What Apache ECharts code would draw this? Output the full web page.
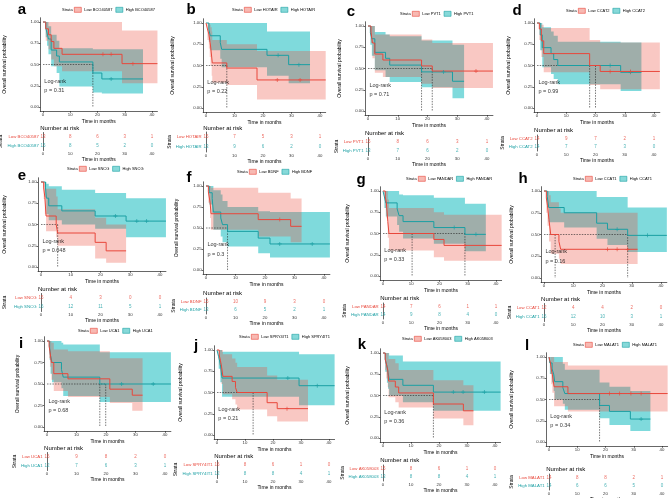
<!DOCTYPE html>
<html>
<head>
<meta charset="utf-8">
<script src="https://cdn.jsdelivr.net/npm/echarts@6/dist/echarts.min.js"></script>
<style>
  html, body { margin: 0; background: #fff; }
  #chart { width: 669px; height: 498px; }
</style>
</head>
<body>
<div id="chart"></div>
<script>
// ---- data ----
const genes = ['BCO40587', 'HOTAIR', 'PVT1', 'CCAT2', 'SNCG', 'BDNF', 'PANDAR', 'CCAT1', 'UCA1', 'SPRY4IT1', 'AK058003', 'MALAT1']
const letters = ['a', 'b', 'c', 'd', 'e', 'f', 'g', 'h', 'i', 'j', 'k', 'l']
const pvals = ['0.31', '0.22', '0.71', '0.99', '0.048', '0.3', '0.33', '0.16', '0.68', '0.21', '0.36', '0.34']
const riskTimes = [0, 10, 20, 30, 40]
const riskLow = [[13,8,6,3,1],[15,7,5,3,1],[15,8,6,3,1],[14,9,7,2,1],[15,4,3,0,0],[15,10,9,3,0],
                 [14,7,6,1,1],[12,4,4,2,0],[16,9,8,2,0],[16,8,6,1,0],[15,8,6,1,0],[14,8,8,2,1]]
const riskHigh = [[15,8,5,2,0],[13,9,6,2,0],[13,7,6,2,0],[14,7,7,3,0],[16,12,11,5,1],[13,6,5,2,1],
                  [14,9,8,4,0],[16,12,10,3,1],[12,7,6,3,1],[12,8,8,4,1],[13,8,8,4,1],[14,6,6,5,0]]

// low group: step times, survival, upper / lower band, last follow-up, censor times
const lowT = [[0,1,2,3,4,7,29],[0,.5,1,1.3,1.6,2,2.2,7.3,17.9],[0,1,1.5,2.3,5,18,21.6],[0,.8,1.5,2.3,18,21.6],
  [0,.9,1.3,1.7,5.1,5.6,18.2,21.9],[0,.8,1.4,1.7,17.7,28.7],[0,.8,1.2,1.7,2.1,18,21.6],[0,.8,1.2,1.7,2.3,5.1,5.7],
  [0,.7,1,1.5,2.3,7.1,21.3,28.9],[0,.8,1.2,1.6,2.1,5.4,6.6,7.2,17.9,21.5],[0,.8,1.2,1.7,2,4.4,5.6,18,28.7],[0,.5,.8,1.2,1.8,6.7]]
const lowS = [[1,.92,.85,.77,.69,.62,.51],[1,.93,.87,.8,.73,.6,.53,.47,.33],[1,.93,.8,.67,.6,.53,.47],[1,.93,.79,.64,.5,.43],
  [1,.93,.82,.6,.5,.4,.29,.19],[1,.93,.8,.67,.6,.52],[1,.93,.86,.64,.5,.43,.36],[1,.92,.83,.67,.5,.42,.33],
  [1,.94,.88,.75,.62,.56,.44,.37],[1,.94,.88,.81,.69,.63,.56,.5,.38,.31],[1,.93,.87,.8,.67,.6,.53,.4,.32],[1,.93,.86,.79,.65,.57]]
const lowU = [[1,1,1,1,1,1,.9],[1,1,1,.98,.95,.9,.8,.75,.67],[1,1,1,.9,.9,.84,.8],[1,1,.98,.94,.8,.77],
  [1,1,1,.92,.83,.68,.58,.5],[1,1,1,.98,.92,.85],[1,1,1,.9,.8,.75,.72],[1,1,1,.95,.87,.8,.75],
  [1,1,1,.98,.9,.88,.8,.8],[1,1,1,1,.95,.9,.85,.8,.7,.65],[1,1,1,1,.93,.88,.8,.68,.62],[1,1,1,1,.94,.9]]
const lowL = [[1,.78,.68,.56,.48,.42,.28],[1,.8,.7,.6,.5,.38,.3,.27,.1],[1,.8,.62,.45,.4,.32,.27],[1,.8,.6,.42,.27,.22],
  [1,.8,.62,.42,.35,.25,.1,.05],[1,.8,.62,.48,.4,.33],[1,.8,.68,.45,.3,.22,.18],[1,.75,.6,.42,.28,.22,.16],
  [1,.8,.7,.55,.42,.35,.28,.19],[1,.82,.7,.6,.48,.42,.36,.3,.22,.16],[1,.8,.7,.6,.48,.42,.36,.23,.15],[1,.8,.68,.58,.42,.36]]
const lowEnd = [42, 42, 42, 42, 28.6, 32.4, 42, 32, 32.4, 32.5, 32.3, 42]
const lowCens = [[22,25,33],[25,33],[36.3],[25,32],[],[25],[29],[21.7,25,28.6],[],[25],[],[21.4,25,29,32.6]]

// high group
const highT = [[0,1,1.5,2,3,5,6,18.3,21.6],[0,1,1.5,5,5.5,21.4,29],[0,.8,1.3,2.3,5.9,7.3,18,28.4],[0,1.1,1.8,4.8,5.7,7.1,28.6],
  [0,1.5,1.8,2.6,7,18.2,28.6],[0,1.1,2.1,2.5,5,5.6,7.3,17.7,21.7],[0,.5,1,5,5.7,7.1,18,29],[0,1.1,1.6,6.9,18,21.7,28.6],
  [0,.9,1.2,1.7,4.9,5.5,17.9],[0,.6,1.2,1.8,29.3],[0,.8,1.4,1.8,2.2,7.1,18],[0,.3,1.1,1.7,2,4.9,5.6,17.9,21.4,28.8]]
const highS = [[1,.93,.87,.8,.67,.6,.53,.4,.33],[1,.92,.85,.77,.69,.62,.51],[1,.92,.85,.69,.62,.54,.46,.35],[1,.86,.71,.64,.57,.5,.42],
  [1,.94,.81,.72,.66,.6,.54],[1,.92,.85,.69,.62,.54,.46,.38,.31],[1,.93,.86,.79,.71,.64,.57,.49],[1,.94,.81,.75,.63,.56,.49],
  [1,.92,.83,.75,.67,.58,.5],[1,.92,.83,.67,.58],[1,.92,.85,.77,.69,.62,.54],[1,.93,.86,.79,.71,.64,.57,.43,.36,.27]]
const highU = [[1,1,1,.95,.85,.78,.69,.68,.68],[1,1,1,1,1,.9,.9],[1,1,1,.93,.9,.88,.83,.78],[1,1,.95,.9,.85,.78,.77],
  [1,1,.98,.95,.91,.87,.81],[1,1,1,.95,.9,.82,.75,.7,.69],[1,1,1,1,.96,.95,.92,.85],[1,1,1,1,.93,.93,.81],
  [1,1,1,1,.98,.96,.87],[1,1,1,.98,.95],[1,1,1,1,.97,.9,.9],[1,1,1,1,1,.92,.85,.7,.65,.6]]
const highL = [[1,.82,.72,.62,.48,.4,.24,.17,.16],[1,.78,.68,.58,.48,.38,.29],[1,.78,.65,.48,.4,.34,.28,.15],[1,.68,.48,.4,.34,.28,.2],
  [1,.82,.62,.55,.5,.45,.35],[1,.78,.68,.48,.4,.33,.28,.2,.15],[1,.8,.7,.6,.52,.44,.38,.29],[1,.82,.64,.58,.45,.38,.3],
  [1,.78,.62,.52,.45,.36,.29],[1,.78,.62,.45,.35],[1,.78,.65,.58,.5,.42,.32],[1,.8,.7,.6,.5,.45,.38,.28,.2,.13]]
const highEnd = [36.7, 36.5, 32.3, 35.7, 42, 42, 36.4, 42, 42, 42, 42, 35.9]
const highCens = [[25],[25.3,32.6],[25.4],[25,32],[25,32.2,35.5],[25,36],[25.2,32.9],[25,35.4],[25.3,36],[25.3,35.8],[25.1,28.6,36.2],[32.6]]

// median survival times (dashed guides)
const medians = [[18.3],[7.3],[18,21.6],[18,20],[5.6],[7.3],[10.3,29],[3.8,28.6],[17.9,19.9],[12.9],[18],[17.9]]

// ---- layout (pixels): x of t=0, x of t=40, y of S=1, y of S=0, risk rows, title x, legend, letter ----
const layout = [
  [43,152,22,107,137,146,4,62,10,22,10],
  [206,320,23,108,137,147,172,232,10,191,10],
  [368,487,26,111,142,151,339,400,14,351,12],
  [537,654,23,108,139,147,508,566,11,517,11],
  [41,160,182,267,298,307,4,67,169,22,176],
  [206,324,186,270,302,310,176,237,172,189,178],
  [383,496,191,276,307,315,347,406,179,361,180],
  [544,661,191,278,308,317,511,573,179,523,179],
  [47,165,341,427,457,466,17,78,331,21,344],
  [217,329,350,435,465,474,180,239,337,196,346],
  [383,495,353,438,469,477,347,402,339,362,345],
  [549,662,357,442,478,486,511,573,345,527,346]
]

const RED = '#E8473B'
const TEAL = '#1A9FA3'
const RED_BAND = 'rgba(236,72,56,0.3)'
const TEAL_BAND = 'rgba(0,182,186,0.5)'
const FONT = 'Liberation Sans'

function valueAt(T, S, t) {
  let v = S[0]
  for (let k = 0; k < T.length; k++) if (T[k] <= t) v = S[k]
  return v
}

function bandSeries(ai, T, U, Lo, end, color) {
  return {
    type: 'custom', xAxisIndex: ai, yAxisIndex: ai, silent: true, z: 1, clip: true,
    data: [[0, 0]],
    renderItem(params, api) {
      const pts = []
      for (let k = 0; k < T.length; k++) {
        const t1 = k + 1 < T.length ? T[k + 1] : end
        pts.push(api.coord([T[k], U[k]]), api.coord([t1, U[k]]))
      }
      for (let k = T.length - 1; k >= 0; k--) {
        const t1 = k + 1 < T.length ? T[k + 1] : end
        pts.push(api.coord([t1, Lo[k]]), api.coord([T[k], Lo[k]]))
      }
      return { type: 'polygon', shape: { points: pts }, style: { fill: color } }
    }
  }
}

const cross = 'path://M4,0H6V4H10V6H6V10H4V6H0V4H4Z'
const axisCol = { color: '#000', width: 0.6 }
const grid = [], xAxis = [], yAxis = [], series = [], legend = [], graphic = []

layout.forEach((L, i) => {
  const [x0, x40, y1, y0, rLow, rHigh, tX, legX, legY, letX, letY] = L
  const ux = (x40 - x0) / 40, uy = y0 - y1
  const gl = x0 - ux, gw = 43 * ux
  const g = 2 * i, r = 2 * i + 1
  const lowName = 'Low ' + genes[i], highName = 'High ' + genes[i]

  grid.push({ left: gl, top: y1 - 0.05 * uy, width: gw, height: 1.1 * uy, containLabel: false, outerBoundsMode: 'none' })
  grid.push({ left: gl, top: rLow - (rHigh - rLow) / 2, width: gw, height: 2 * (rHigh - rLow), containLabel: false, outerBoundsMode: 'none' })

  const xCommon = {
    type: 'value', min: -1, max: 42, splitLine: { show: false },
    axisLine: { onZero: false, lineStyle: axisCol },
    axisTick: { length: 1.5, customValues: riskTimes, lineStyle: axisCol },
    axisLabel: { customValues: riskTimes, fontSize: 4.3, margin: 1.5, color: '#333', fontFamily: FONT },
    name: 'Time in months', nameLocation: 'middle',
    nameTextStyle: { fontSize: 5, color: '#000', fontFamily: FONT }
  }
  xAxis.push(Object.assign({ gridIndex: g, nameGap: 7.5 }, xCommon))
  xAxis.push(Object.assign({ gridIndex: r, nameGap: 7 }, xCommon))

  yAxis.push({
    gridIndex: g, type: 'value', min: -0.05, max: 1.05, splitLine: { show: false },
    axisLine: { onZero: false, lineStyle: axisCol },
    axisTick: { length: 1.5, customValues: [0, 0.25, 0.5, 0.75, 1], lineStyle: axisCol },
    axisLabel: { customValues: [0, 0.25, 0.5, 0.75, 1], formatter: v => v.toFixed(2), fontSize: 4.3, margin: 1.5, color: '#333', fontFamily: FONT },
    name: 'Overall survival probability', nameLocation: 'middle', nameRotate: 90, nameGap: gl - tX - 3,
    nameTextStyle: { fontSize: 5, color: '#000', fontFamily: FONT }
  })
  yAxis.push({
    gridIndex: r, type: 'category', data: [highName, lowName], inverse: false,
    axisLine: { lineStyle: axisCol },
    axisTick: { length: 1.5, alignWithLabel: true, lineStyle: axisCol },
    axisLabel: { fontSize: 4.3, margin: 1.5, fontFamily: FONT, color: v => v.indexOf('Low') === 0 ? RED : TEAL },
    name: 'Strata', nameLocation: 'middle', nameRotate: 90, nameGap: gl - tX - 3,
    nameTextStyle: { fontSize: 5, color: '#000', fontFamily: FONT }
  })

  // confidence bands
  series.push(bandSeries(g, highT[i], highU[i], highL[i], highEnd[i], TEAL_BAND))
  series.push(bandSeries(g, lowT[i], lowU[i], lowL[i], lowEnd[i], RED_BAND))

  // median guides
  const mMax = Math.max(...medians[i])
  series.push({
    type: 'line', xAxisIndex: g, yAxisIndex: g, silent: true, symbol: 'none', z: 2,
    lineStyle: { color: '#222', width: 0.6, type: [1.5, 1.2] },
    data: [[0, 0.5], [mMax, 0.5]]
  })
  medians[i].forEach(m => {
    series.push({
      type: 'line', xAxisIndex: g, yAxisIndex: g, silent: true, symbol: 'none', z: 2,
      lineStyle: { color: '#222', width: 0.6, type: [1.5, 1.2] },
      data: [[m, 0.5], [m, 0]]
    })
  })

  // survival curves
  const curve = (T, S, end) => T.map((t, k) => [t, S[k]]).concat([[end, S[S.length - 1]]])
  series.push({
    name: highName, type: 'line', step: 'end', xAxisIndex: g, yAxisIndex: g, symbol: 'none', z: 3,
    color: TEAL, lineStyle: { color: TEAL, width: 1 }, data: curve(highT[i], highS[i], highEnd[i])
  })
  series.push({
    name: lowName, type: 'line', step: 'end', xAxisIndex: g, yAxisIndex: g, symbol: 'none', z: 3,
    color: RED, lineStyle: { color: RED, width: 1 }, data: curve(lowT[i], lowS[i], lowEnd[i])
  })
  // censor marks
  series.push({
    type: 'scatter', xAxisIndex: g, yAxisIndex: g, symbol: cross, symbolSize: 4, z: 4, silent: true,
    itemStyle: { color: TEAL }, data: highCens[i].map(t => [t, valueAt(highT[i], highS[i], t)])
  })
  series.push({
    type: 'scatter', xAxisIndex: g, yAxisIndex: g, symbol: cross, symbolSize: 4, z: 4, silent: true,
    itemStyle: { color: RED }, data: lowCens[i].map(t => [t, valueAt(lowT[i], lowS[i], t)])
  })
  // log-rank text
  series.push({
    type: 'scatter', xAxisIndex: g, yAxisIndex: g, symbolSize: 1, silent: true, z: 5,
    itemStyle: { color: 'transparent' },
    label: { show: true, position: 'right', distance: 0, fontSize: 5.5, color: '#000', fontFamily: FONT, formatter: p => p.data[2] },
    data: [[0.3, 0.3, 'Log-rank'], [0.3, 0.19, 'p = ' + pvals[i]]]
  })

  // number at risk
  const riskSeries = (vals, name, color) => ({
    type: 'scatter', xAxisIndex: r, yAxisIndex: r, symbolSize: 1, silent: true,
    itemStyle: { color: 'transparent' },
    label: { show: true, position: 'inside', fontSize: 4.5, color: color, fontFamily: FONT, formatter: p => p.data[2] },
    data: vals.map((v, k) => [riskTimes[k], name, v])
  })
  series.push(riskSeries(riskLow[i], lowName, RED))
  series.push(riskSeries(riskHigh[i], highName, TEAL))

  // legend
  graphic.push({ type: 'text', left: legX, top: legY - 2.5, style: { text: 'Strata', fontSize: 4, fill: '#000', fontFamily: FONT } })
  legend.push({
    left: legX + 12, top: legY - 3, padding: 0, itemGap: 3, itemWidth: 7, itemHeight: 5, icon: 'rect',
    textStyle: { fontSize: 4, fontFamily: FONT, color: '#000', padding: [0, 0, 0, -2] },
    selectedMode: false,
    data: [
      { name: lowName, itemStyle: { color: '#F7B9B2', borderColor: RED, borderWidth: 0.6 } },
      { name: highName, itemStyle: { color: '#86D9D9', borderColor: TEAL, borderWidth: 0.6 } }
    ]
  })

  graphic.push({ type: 'text', left: gl, top: rLow - 12, style: { text: 'Number at risk', fontSize: 6, fill: '#000', fontFamily: FONT } })
  graphic.push({ type: 'text', x: letX, y: letY, style: { text: letters[i], fontSize: 15, fontWeight: 'bold', fill: '#000', fontFamily: FONT, align: 'center', verticalAlign: 'middle' } })
})

const chart = echarts.init(document.getElementById('chart'))
chart.setOption({
  animation: false,
  backgroundColor: '#fff',
  textStyle: { fontFamily: FONT },
  grid, xAxis, yAxis, legend, series, graphic
})
</script>
</body>
</html>
